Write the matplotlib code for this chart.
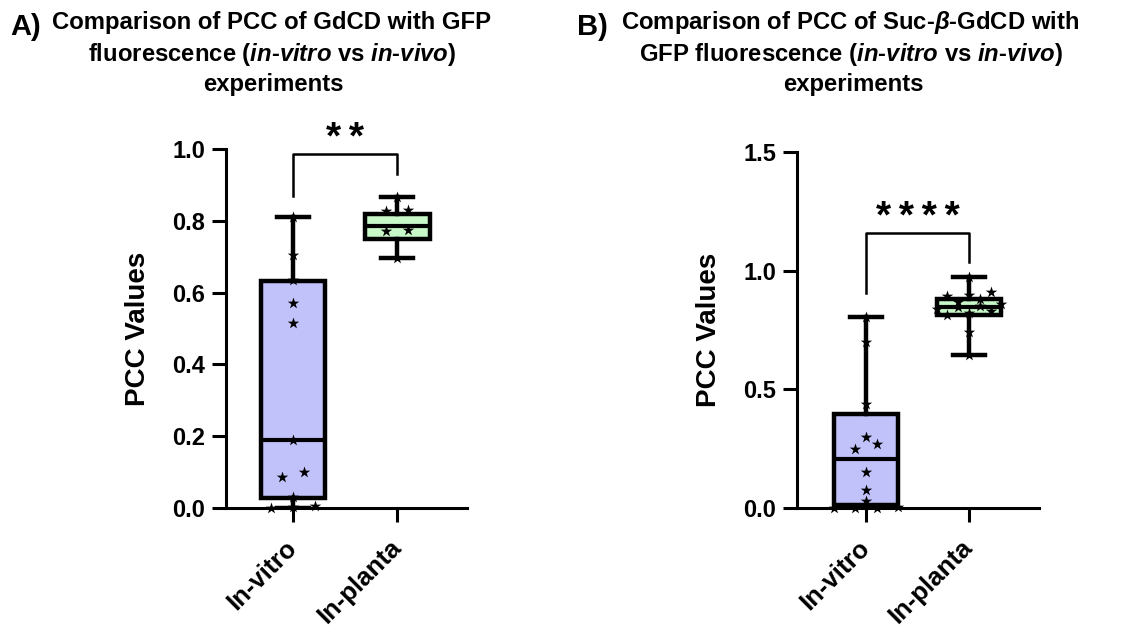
import matplotlib
matplotlib.use('Agg')
import matplotlib.pyplot as plt
import numpy as np

plt.rcParams['font.family'] = ['Liberation Sans', 'DejaVu Sans']
plt.rcParams['font.weight'] = 'bold'
plt.rcParams['mathtext.fontset'] = 'custom'
plt.rcParams['mathtext.rm'] = 'Liberation Sans:bold'
plt.rcParams['mathtext.it'] = 'Liberation Sans:italic:bold'
plt.rcParams['mathtext.bf'] = 'Liberation Sans:bold'

categories = ['In-vitro', 'In-planta']

# ---- Panel A data (GdCD) ----
a_whislo = [0.0, 0.696]
a_q1 = [0.028, 0.749]
a_med = [0.19, 0.785]
a_q3 = [0.632, 0.819]
a_whishi = [0.81, 0.866]
a_vitro_pts = [0.81, 0.705, 0.635, 0.57, 0.515, 0.19, 0.10, 0.085, 0.03, 0.006, 0.003, 0.0]
a_planta_pts = [0.866, 0.83, 0.828, 0.775, 0.772, 0.696]
a_sig = '**'

# ---- Panel B data (Suc-beta-GdCD) ----
b_whislo = [0.0, 0.645]
b_q1 = [0.013, 0.813]
b_med = [0.205, 0.848]
b_q3 = [0.395, 0.88]
b_whishi = [0.805, 0.975]
b_vitro_pts = [0.805, 0.70, 0.44, 0.30, 0.27, 0.25, 0.152, 0.076, 0.03, 0.005, 0.0, 0.0, 0.0]
b_planta_pts = [0.975, 0.91, 0.897, 0.895, 0.88, 0.87, 0.86, 0.85, 0.845, 0.84, 0.83,
                0.82, 0.815, 0.74, 0.645]
b_sig = '****'

fill_colors = ['#c2c2fa', '#c8f7c8']


def swarm_offsets(vals, tol, step):
    vals = np.asarray(vals, dtype=float)
    order = np.argsort(vals, kind='stable')
    offs = np.zeros(len(vals))
    groups = []
    for idx in order:
        if groups and vals[idx] - vals[groups[-1][0]] <= tol:
            groups[-1].append(idx)
        else:
            groups.append([idx])
    for g in groups:
        n = len(g)
        for k, idx in enumerate(g):
            offs[idx] = (k - (n - 1) / 2) * step
    return offs


def panel(ax, whislo, q1, med, q3, whishi, pts_list, ylim, yticks, sig,
          bar_y, leg_l, leg_r, star_y, xlim):
    stats = []
    for i in range(2):
        stats.append(dict(whislo=whislo[i], q1=q1[i], med=med[i], q3=q3[i],
                          whishi=whishi[i], fliers=[]))
    bp = ax.bxp(stats, positions=[1, 2], widths=0.62, patch_artist=True,
                showfliers=False,
                boxprops=dict(linewidth=3.2, edgecolor='black'),
                medianprops=dict(color='black', linewidth=3.0),
                whiskerprops=dict(color='black', linewidth=3.2),
                capprops=dict(color='black', linewidth=3.2),
                capwidths=0.31)
    for patch, c in zip(bp['boxes'], fill_colors):
        patch.set_facecolor(c)
    for i, pts in enumerate(pts_list):
        offs = swarm_offsets(pts, 0.025, 0.21)
        ax.scatter(np.full(len(pts), i + 1) + offs, pts, marker='*', s=75,
                   color='black', zorder=5, linewidths=0, clip_on=False)
    # significance bracket
    ax.plot([1, 1, 2, 2], [leg_l, bar_y, bar_y, leg_r], color='black',
            linewidth=1.8, clip_on=False)
    ax.text(1.5, star_y, '\u2009'.join(sig), ha='center', va='center', fontsize=28,
            fontweight='bold', clip_on=False)
    ax.set_xlim(*xlim)
    ax.set_ylim(*ylim)
    ax.set_yticks(yticks)
    ax.set_yticklabels(['%.1f' % t for t in yticks])
    ax.set_xticks([1, 2])
    ax.set_xticklabels(categories, rotation=45, ha='right', va='center',
                       rotation_mode='anchor')
    ax.spines['top'].set_visible(False)
    ax.spines['right'].set_visible(False)
    for s in ['left', 'bottom']:
        ax.spines[s].set_linewidth(2.2)
    ax.tick_params(axis='both', width=2.2, length=10)
    ax.tick_params(axis='y', pad=5, labelsize=17)
    ax.tick_params(axis='x', pad=16, labelsize=18.5)
    for lab in ax.get_xticklabels() + ax.get_yticklabels():
        lab.set_fontweight('bold')
    ax.set_ylabel('PCC Values', fontsize=20, fontweight='bold', labelpad=15)


fig = plt.figure(figsize=(11.38, 6.31), dpi=100)
W, H = 1138, 631
axA = fig.add_axes([226 / W, 1 - 508 / H, (467 - 226) / W, (508 - 149) / H])
axB = fig.add_axes([797 / W, 1 - 508 / H, (1039 - 797) / W, (508 - 152) / H])

panel(axA, a_whislo, a_q1, a_med, a_q3, a_whishi, [a_vitro_pts, a_planta_pts],
      (0, 1.0), [0, 0.2, 0.4, 0.6, 0.8, 1.0], a_sig,
      0.986, 0.87, 0.93, 1.029, (0.355, 2.67))
panel(axB, b_whislo, b_q1, b_med, b_q3, b_whishi, [b_vitro_pts, b_planta_pts],
      (0, 1.5), [0, 0.5, 1.0, 1.5], b_sig,
      1.159, 0.906, 1.037, 1.22, (0.33, 2.68))

tfs = 17.2
fig.text(10 / W, 1 - 27 / H, 'A)', fontsize=21, fontweight='bold', va='center', ha='left')
fig.text(272 / W, 1 - 23 / H, 'Comparison of PCC of GdCD with GFP', fontsize=tfs,
         fontweight='bold', ha='center', va='center')
fig.text(272 / W, 1 - 55 / H, r'fluorescence ($\mathit{in}$-$\mathit{vitro}$ vs $\mathit{in}$-$\mathit{vivo)}$',
         fontsize=tfs, fontweight='bold', ha='center', va='center')
fig.text(273 / W, 1 - 85 / H, 'experiments', fontsize=tfs, fontweight='bold',
         ha='center', va='center')

fig.text(577 / W, 1 - 27 / H, 'B)', fontsize=21, fontweight='bold', va='center', ha='left')
fig.text(850 / W, 1 - 23 / H, r'Comparison of PCC of Suc-$\mathit{\beta}$-GdCD with', fontsize=tfs,
         fontweight='bold', ha='center', va='center')
fig.text(851 / W, 1 - 55 / H, r'GFP fluorescence ($\mathit{in}$-$\mathit{vitro}$ vs $\mathit{in}$-$\mathit{vivo)}$',
         fontsize=tfs, fontweight='bold', ha='center', va='center')
fig.text(853 / W, 1 - 85 / H, 'experiments', fontsize=tfs, fontweight='bold',
         ha='center', va='center')

fig.savefig('out.png', dpi=100)
